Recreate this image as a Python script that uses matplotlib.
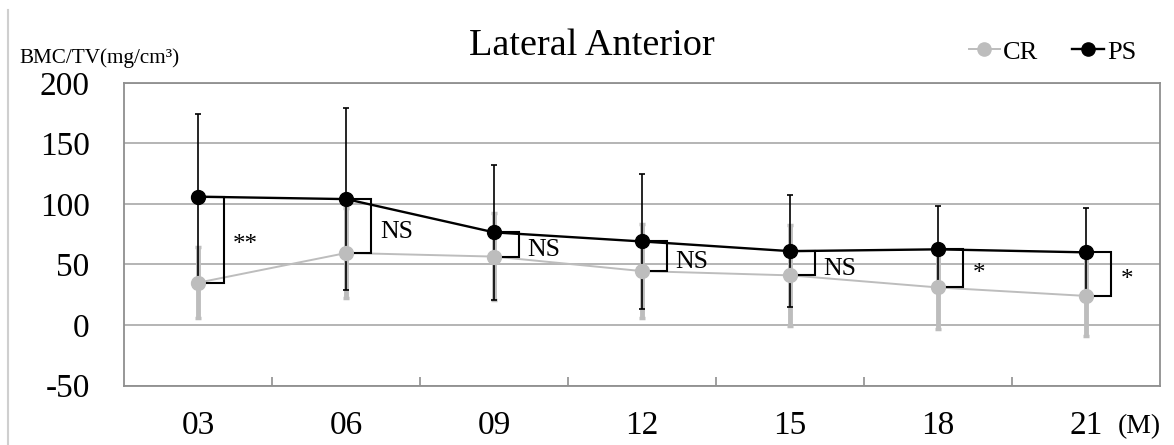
import matplotlib.pyplot as plt
from matplotlib.lines import Line2D

# months after surgery
months = ["03", "06", "09", "12", "15", "18", "21"]

# BMC/TV (mg/cm3), mean and SD
ps_mean = [106, 104, 76.5, 69, 61, 62.5, 60]
ps_sd = [68, 75.5, 55.5, 55.5, 46.5, 36, 36.8]
cr_mean = [35, 59.5, 56.5, 44.5, 41, 31, 24]
cr_sd = [29.5, 37.5, 36, 39, 42, 34, 33]

sig_labels = ["**", "NS", "NS", "NS", "NS", "*", "*"]

y_ticks = [-50, 0, 50, 100, 150, 200]

plt.rcParams["font.family"] = ["Liberation Serif", "DejaVu Serif"]

GRAY = "#bdbdbd"
AXGRAY = "#8f8f8f"

fig = plt.figure(figsize=(11.74, 4.45), dpi=100)
ax = fig.add_axes([0.106, 0.1337, 0.882, 0.68])

x = list(range(len(months)))

ax.errorbar(x, cr_mean, yerr=cr_sd, fmt="none", ecolor=GRAY, elinewidth=3.5,
            capsize=2, capthick=2.5, zorder=2)
ax.errorbar(x, ps_mean, yerr=ps_sd, fmt="none", ecolor="black", elinewidth=1.2,
            capsize=2.5, capthick=1.2, zorder=3)
ax.plot(x, cr_mean, color=GRAY, lw=1.4, marker="o", ms=10, mfc=GRAY, mec=GRAY,
        zorder=4, label="CR")
ax.plot(x, ps_mean, color="black", lw=1.7, marker="o", ms=10, mfc="black",
        mec="black", zorder=5, label="PS")

# significance brackets between PS and CR at each time point
for i, lab in enumerate(sig_labels):
    top, bot = ps_mean[i], cr_mean[i]
    bx = i + 0.17
    ax.plot([i + 0.06, bx, bx, i + 0.06], [top, top, bot, bot], color="black",
            lw=1.5, solid_joinstyle="miter", zorder=6)
    mid = (top + bot) / 2
    if lab == "NS":
        ax.annotate(lab, (bx, mid), xytext=(6, -4), textcoords="offset points",
                    fontsize=18.5, va="center", ha="left")
    else:
        ax.annotate(lab, (bx, mid), xytext=(7, 4), textcoords="offset points",
                    fontsize=18, va="top", ha="left")

ax.set_xlim(-0.5, len(months) - 0.5)
ax.set_ylim(-50, 200)
ax.set_yticks(y_ticks)
ax.set_yticklabels([str(v) for v in y_ticks], fontsize=24)
ax.tick_params(axis="y", length=0, pad=25)
ax.set_xticks([i + 0.5 for i in range(len(months) - 1)])
ax.set_xticklabels([])
ax.tick_params(axis="x", which="major", direction="in", length=6.5,
               width=1.2, color=AXGRAY)
ax.set_xticks(x, minor=True)
ax.set_xticklabels(months, minor=True, fontsize=24)
ax.tick_params(axis="x", which="minor", length=0, pad=18)

ax.grid(axis="y", color="#a8a8a8", lw=1.2, zorder=0)
ax.set_axisbelow(True)
for sp in ax.spines.values():
    sp.set_color(AXGRAY)
    sp.set_linewidth(1.3)

fig.text(0.504, 0.897, "Lateral Anterior", fontsize=27.5, ha="center", va="center")
fig.text(19 / 1174, 1 - 62.7 / 445, "BMC/TV(mg/cm³)", fontsize=15.2,
         ha="left", va="baseline")
fig.text(1161 / 1174, 1 - 433 / 445, "(M)", fontsize=20, ha="right",
         va="baseline")

leg = fig.legend(loc="center right", bbox_to_anchor=(1136 / 1174, 1 - 52 / 445),
                 ncol=2, frameon=False, fontsize=19, handlelength=1.2,
                 handletextpad=0.1, columnspacing=1.3, borderpad=0,
                 borderaxespad=0, markerscale=0.95)

# thin border line at the left edge of the image
fig.add_artist(Line2D([7.5 / 1174, 7.5 / 1174], [0, 1 - 10 / 445],
                      transform=fig.transFigure, color="#cfcfcf", lw=1.5))

fig.savefig("out.png", dpi=100)
